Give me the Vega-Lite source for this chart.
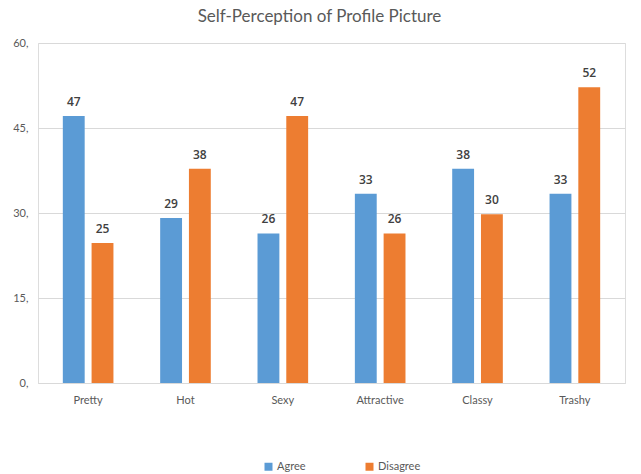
{
  "$schema": "https://vega.github.io/schema/vega-lite/v6.json",
  "autosize": {"type": "none"},
  "width": 587,
  "height": 340,
  "padding": {"left": 38, "top": 43, "right": 16, "bottom": 91},
  "background": "white",
  "title": {
    "text": "Self-Perception of Profile Picture",
    "font": "Lato",
    "fontSize": 17,
    "fontWeight": "normal",
    "color": "#595959",
    "anchor": "middle",
    "dx": -12,
    "offset": 11
  },
  "data": {
    "values": [
      {"trait": "Pretty", "response": "Agree", "value": 47.1},
      {"trait": "Pretty", "response": "Disagree", "value": 24.7},
      {"trait": "Hot", "response": "Agree", "value": 29.1},
      {"trait": "Hot", "response": "Disagree", "value": 37.8},
      {"trait": "Sexy", "response": "Agree", "value": 26.4},
      {"trait": "Sexy", "response": "Disagree", "value": 47.1},
      {"trait": "Attractive", "response": "Agree", "value": 33.4},
      {"trait": "Attractive", "response": "Disagree", "value": 26.4},
      {"trait": "Classy", "response": "Agree", "value": 37.8},
      {"trait": "Classy", "response": "Disagree", "value": 29.8},
      {"trait": "Trashy", "response": "Agree", "value": 33.4},
      {"trait": "Trashy", "response": "Disagree", "value": 52.2}
    ]
  },
  "encoding": {
    "x": {
      "field": "trait",
      "type": "nominal",
      "sort": ["Pretty", "Hot", "Sexy", "Attractive", "Classy", "Trashy"],
      "scale": {"paddingInner": 0.48, "paddingOuter": 0.255},
      "axis": {
        "title": null,
        "labelAngle": 0,
        "ticks": false,
        "domainColor": "#d9d9d9",
        "labelPadding": 11,
        "labelFont": "Lato",
        "labelFontSize": 11,
        "labelColor": "#595959"
      }
    },
    "xOffset": {
      "field": "response",
      "type": "nominal",
      "scale": {"paddingInner": 0.24}
    },
    "y": {
      "field": "value",
      "type": "quantitative",
      "scale": {"domain": [0, 60]},
      "axis": {
        "title": null,
        "values": [0, 15, 30, 45, 60],
        "labelExpr": "datum.label + ','",
        "domain": false,
        "ticks": false,
        "gridColor": "#d9d9d9",
        "labelPadding": 10,
        "labelFont": "Lato",
        "labelFontSize": 11,
        "labelColor": "#595959"
      }
    }
  },
  "layer": [
    {
      "mark": {"type": "bar"},
      "encoding": {
        "color": {
          "field": "response",
          "type": "nominal",
          "scale": {"domain": ["Agree", "Disagree"], "range": ["#5B9BD5", "#ED7D31"]},
          "legend": {
            "title": null,
            "orient": "none",
            "direction": "horizontal",
            "legendX": 225,
            "legendY": 418,
            "symbolType": "square",
            "symbolSize": 64,
            "symbolStrokeWidth": 0,
            "symbolOffset": 0,
            "labelOffset": 3,
            "columnPadding": 58,
            "labelFont": "Lato",
            "labelFontSize": 11,
            "labelColor": "#595959"
          }
        }
      }
    },
    {
      "mark": {
        "type": "text",
        "baseline": "bottom",
        "dy": -7,
        "font": "Open Sans",
        "fontSize": 12,
        "fontWeight": 600,
        "color": "#404040"
      },
      "encoding": {
        "text": {"field": "value", "type": "quantitative", "format": ".0f"}
      }
    }
  ]
}
